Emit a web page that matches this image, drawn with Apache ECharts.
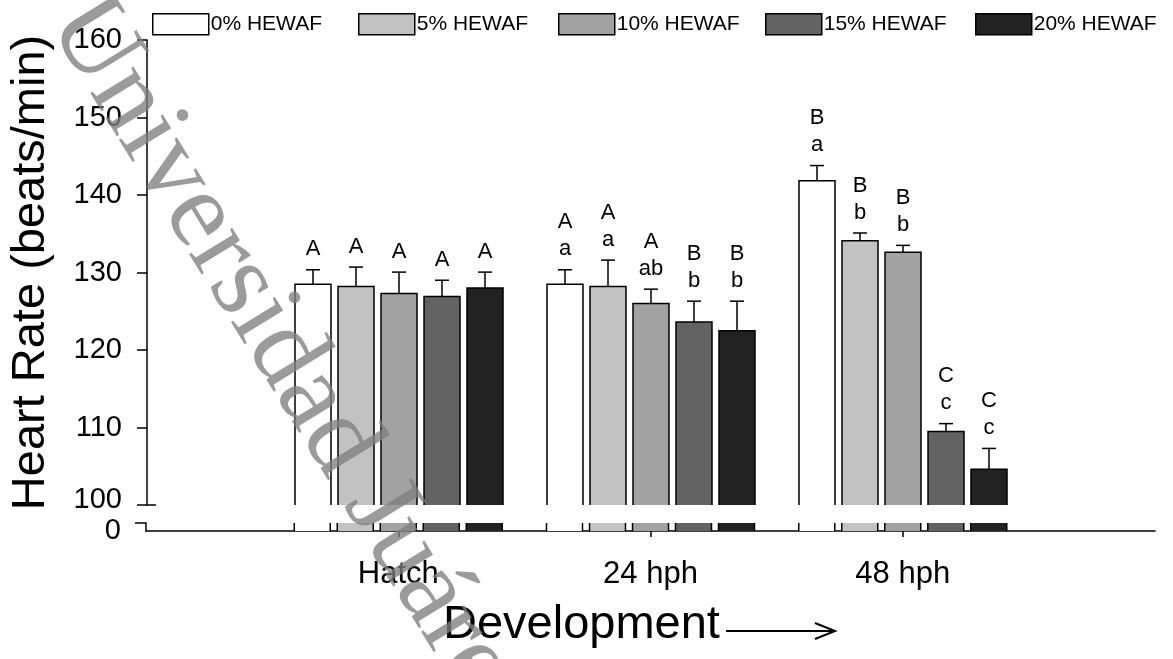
<!DOCTYPE html>
<html>
<head>
<meta charset="utf-8">
<script src="https://cdn.jsdelivr.net/npm/echarts@6/dist/echarts.min.js"></script>
<style>html,body{margin:0;padding:0;background:#fff}#c{width:1173px;height:659px}</style>
</head>
<body>
<div id="c"></div>
<script>
// ---- data ----
const axisCategories = ['', 'Hatch', '24 hph', '48 hph', ' '];
const groups = ['Hatch', '24 hph', '48 hph'];
const seriesNames = ['0% HEWAF', '5% HEWAF', '10% HEWAF', '15% HEWAF', '20% HEWAF'];
const mean0 = [128.5, 128.5, 141.85];
const mean5 = [128.2, 128.2, 134.1];
const mean10 = [127.3, 126.0, 132.6];
const mean15 = [126.9, 123.6, 109.5];
const mean20 = [128.0, 122.5, 104.6];
const err0 = [1.85, 1.85, 1.95];
const err5 = [2.5, 3.4, 1.0];
const err10 = [2.75, 1.85, 0.9];
const err15 = [2.1, 2.7, 1.0];
const err20 = [2.05, 3.8, 2.7];
const letters0 = ['A', 'A\na', 'B\na'];
const letters5 = ['A', 'A\na', 'B\nb'];
const letters10 = ['A', 'A\nab', 'B\nb'];
const letters15 = ['A', 'B\nb', 'C\nc'];
const letters20 = ['A', 'B\nb', 'C\nc'];
const yTicksUpper = [100, 110, 120, 130, 140, 150, 160];
const yTicksLower = [0];

// ---- styling ----
const means = [mean0, mean5, mean10, mean15, mean20];
const errs = [err0, err5, err10, err15, err20];
const letters = [letters0, letters5, letters10, letters15, letters20];
const colors = ['#ffffff', '#c2c2c2', '#a2a2a2', '#636363', '#222222'];
const BAR_W = 36, BAR_GAP = 7, LW = 1.5;
const FONT = '"Liberation Sans", Arial, sans-serif';
const LOW_MAX = 1;

function topRender(j) {
  return function (params, api) {
    const cat = api.value(0);
    const m = api.value(1), e = api.value(2);
    const base = api.coord([cat, 100]);
    const top = api.coord([cat, m]);
    const cap = api.coord([cat, m + e]);
    const cx = base[0] + (j - 2) * (BAR_W + BAR_GAP);
    const x0 = cx - BAR_W / 2, x1 = cx + BAR_W / 2;
    return {
      type: 'group',
      children: [
        { type: 'rect', shape: { x: x0, y: top[1], width: BAR_W, height: base[1] - top[1] }, style: { fill: colors[j] } },
        { type: 'polyline', shape: { points: [[x0, base[1]], [x0, top[1]], [x1, top[1]], [x1, base[1]]] }, style: { stroke: '#000', lineWidth: LW, fill: null } },
        { type: 'line', shape: { x1: cx, y1: top[1], x2: cx, y2: cap[1] }, style: { stroke: '#000', lineWidth: LW } },
        { type: 'line', shape: { x1: cx - 7, y1: cap[1], x2: cx + 7, y2: cap[1] }, style: { stroke: '#000', lineWidth: LW } },
        { type: 'text', x: cx, y: cap[1] - 7, style: { text: letters[j][params.dataIndex], font: '22px ' + FONT, fill: '#000', align: 'center', verticalAlign: 'bottom', textAlign: 'center', textVerticalAlign: 'bottom', lineHeight: 27 } }
      ]
    };
  };
}
function lowRender(j) {
  return function (params, api) {
    const cat = api.value(0);
    const m = api.value(1);
    const base = api.coord([cat, 0]);
    const top = api.coord([cat, Math.min(m, LOW_MAX)]);
    const cx = base[0] + (j - 2) * (BAR_W + BAR_GAP);
    const x0 = cx - BAR_W / 2, x1 = cx + BAR_W / 2;
    return {
      type: 'group',
      children: [
        { type: 'rect', shape: { x: x0, y: top[1], width: BAR_W, height: base[1] - top[1] }, style: { fill: colors[j] } },
        { type: 'line', shape: { x1: x0, y1: top[1], x2: x0, y2: base[1] }, style: { stroke: '#000', lineWidth: LW } },
        { type: 'line', shape: { x1: x1, y1: top[1], x2: x1, y2: base[1] }, style: { stroke: '#000', lineWidth: LW } }
      ]
    };
  };
}

const series = [];
seriesNames.forEach(function (name, j) {
  const data = groups.map(function (g, i) { return [g, means[j][i], errs[j][i]]; });
  const itemStyle = { color: colors[j], borderColor: '#000', borderWidth: LW };
  series.push({ type: 'custom', name: name, xAxisIndex: 0, yAxisIndex: 0, renderItem: topRender(j), encode: { x: 0, y: 1 }, data: data, itemStyle: itemStyle, z: 5 });
  series.push({ type: 'custom', name: name, xAxisIndex: 1, yAxisIndex: 2, renderItem: lowRender(j), encode: { x: 0, y: 1 }, data: data, itemStyle: itemStyle, z: 5 });
});

const legendLeft = [152, 358, 558, 765, 975];
const legends = seriesNames.map(function (name, j) {
  return {
    left: legendLeft[j], top: 13, padding: 0, itemWidth: 56, itemHeight: 21, selectedMode: false,
    textStyle: { fontSize: 21, fontFamily: FONT, color: '#000', padding: [0, 0, 0, -3] },
    data: [{ name: name, icon: 'rect', itemStyle: { color: colors[j], borderColor: '#000', borderWidth: LW } }]
  };
});

const axisLine = { show: true, lineStyle: { color: '#000', width: LW } };
const option = {
  backgroundColor: '#fff',
  animation: false,
  legend: legends,
  title: {
    text: 'Development', left: 443, top: 602, padding: 0,
    textStyle: { fontSize: 47, fontWeight: 'normal', fontFamily: FONT, color: '#000' }
  },
  grid: [
    { left: 146, right: 18, top: 40, bottom: 154 },
    { left: 146, right: 18, top: 523, bottom: 128 }
  ],
  xAxis: [
    { type: 'category', gridIndex: 0, data: axisCategories, boundaryGap: false, show: false },
    {
      type: 'category', gridIndex: 1, data: axisCategories, boundaryGap: false,
      axisLine: axisLine,
      axisTick: { show: true, length: 6, lineStyle: { color: '#000', width: LW }, interval: function (i) { return i > 0 && i < axisCategories.length - 1; } },
      axisLabel: { fontSize: 31, fontFamily: FONT, color: '#000', margin: 28, interval: 0 },
      splitLine: { show: false }
    }
  ],
  yAxis: [
    {
      type: 'value', gridIndex: 0, position: 'left', min: 100, max: 160, interval: 10,
      name: 'Heart Rate (beats/min)', nameLocation: 'middle', nameGap: 92,
      nameTextStyle: { fontSize: 47, fontFamily: FONT, color: '#000' },
      axisLine: axisLine,
      axisTick: { show: true, length: 10, lineStyle: { color: '#000', width: LW }, customValues: yTicksUpper },
      axisLabel: {
        fontSize: 29, fontFamily: FONT, color: '#000', margin: 25, customValues: yTicksUpper,
        formatter: function (v) { return v === 100 ? '{u|100}' : String(v); },
        rich: { u: { fontSize: 29, fontFamily: FONT, color: '#000', padding: [0, 0, 10, 0] } }
      },
      splitLine: { show: false }
    },
    {
      type: 'value', gridIndex: 0, position: 'left', min: 100, max: 160, interval: 10,
      axisLine: { show: false },
      axisTick: { show: true, inside: true, length: 9, lineStyle: { color: '#000', width: LW }, customValues: [100] },
      axisLabel: { show: false }, splitLine: { show: false }
    },
    {
      type: 'value', gridIndex: 1, position: 'left', min: 0, max: LOW_MAX, interval: 1,
      axisLine: axisLine,
      axisTick: { show: true, length: 11, lineStyle: { color: '#000', width: LW }, customValues: [LOW_MAX] },
      axisLabel: { fontSize: 29, fontFamily: FONT, color: '#000', margin: 25, customValues: yTicksLower },
      splitLine: { show: false }
    }
  ],
  series: series,
  graphic: [
    {
      type: 'group', silent: true, z: 10,
      children: [
        { type: 'line', shape: { x1: 726, y1: 631, x2: 834, y2: 631 }, style: { stroke: '#000', lineWidth: 2 } },
        { type: 'polyline', shape: { points: [[815, 623], [835, 631], [815, 639]] }, style: { stroke: '#000', lineWidth: 2, fill: null } }
      ]
    },
    {
      type: 'text', silent: true, z: 100, x: 72, y: 8, rotation: -1.02,
      style: { text: 'Universidad Juárez', font: '110px "Liberation Serif", serif', fill: 'rgba(127,127,127,0.78)', verticalAlign: 'middle', textVerticalAlign: 'middle' }
    }
  ]
};
const chart = echarts.init(document.getElementById('c'));
chart.setOption(option);
</script>
</body>
</html>
